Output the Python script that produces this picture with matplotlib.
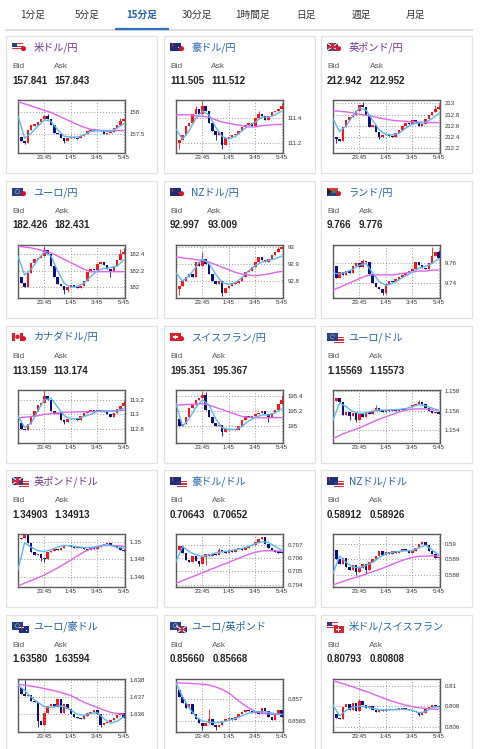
import matplotlib
matplotlib.use('Agg')
import matplotlib.pyplot as plt
from matplotlib.patches import Rectangle, Circle, Polygon
import numpy as np

# ---------------- data ----------------
TAB_LABELS = ['1分足', '5分足', '15分足', '30分足', '1時間足', '日足', '週足', '月足']
TAB_SELECTED = 2

NAMES = ['米ドル/円', '豪ドル/円', '英ポンド/円', 'ユーロ/円', 'NZドル/円', 'ランド/円',
         'カナダドル/円', 'スイスフラン/円', 'ユーロ/ドル', '英ポンド/ドル', '豪ドル/ドル',
         'NZドル/ドル', 'ユーロ/豪ドル', 'ユーロ/英ポンド', '米ドル/スイスフラン']
FLAGS = [('US', 'JP'), ('AU', 'JP'), ('GB', 'JP'), ('EU', 'JP'), ('NZ', 'JP'), ('ZA', 'JP'),
         ('CA', 'JP'), ('CH', 'JP'), ('EU', 'US'), ('GB', 'US'), ('AU', 'US'), ('NZ', 'US'),
         ('EU', 'AU'), ('EU', 'GB'), ('US', 'CH')]
VISITED = [0, 2, 9]
BIDS = ['157.841', '111.505', '212.942', '182.426', '92.997', '9.766', '113.159', '195.351',
        '1.15569', '1.34903', '0.70643', '0.58912', '1.63580', '0.85660', '0.80793']
ASKS = ['157.843', '111.512', '212.952', '182.431', '93.009', '9.776', '113.174', '195.367',
        '1.15573', '1.34913', '0.70652', '0.58926', '1.63594', '0.85668', '0.80808']

TIME_TICKS = [8, 16, 24, 32]
TIME_LABELS = ['23:45', '1:45', '3:45', '5:45']

# 1 米ドル/円
USDJPY_OPEN0 = 157.10
USDJPY_CLOSE = [157.44, 157.34, 157.30, 157.60, 157.70, 157.72, 157.78, 157.86, 157.92, 157.84, 157.70,
                157.52, 157.49, 157.40, 157.33, 157.40, 157.43, 157.41, 157.40, 157.45, 157.50, 157.57,
                157.60, 157.57, 157.60, 157.56, 157.51, 157.53, 157.55, 157.64, 157.72, 157.80, 157.841]
USDJPY_HI = {8: 157.95, 9: 157.96, 31: 157.87}
USDJPY_LO = {0: 157.06, 2: 157.27, 14: 157.30}
USDJPY_FAST = [157.92, 157.41, 157.52, 157.68, 157.83, 157.79, 157.60, 157.45, 157.43, 157.43, 157.48,
               157.56, 157.58, 157.57, 157.56, 157.64, 157.74]
USDJPY_SLOW = [158.25, 158.20, 158.15, 158.10, 158.05, 158.00, 157.93, 157.86, 157.79, 157.72, 157.66,
               157.61, 157.59, 157.58, 157.58, 157.58, 157.58]
USDJPY_YTICKS = [157.5, 158]
USDJPY_YRANGE = (157.06, 158.29)

# 2 豪ドル/円
AUDJPY_OPEN0 = 111.30
AUDJPY_CLOSE = [111.20, 111.22, 111.26, 111.34, 111.36, 111.44, 111.48, 111.44, 111.50, 111.46, 111.36,
                111.30, 111.26, 111.29, 111.18, 111.24, 111.25, 111.26, 111.27, 111.30, 111.33, 111.35,
                111.36, 111.34, 111.40, 111.44, 111.42, 111.39, 111.42, 111.45, 111.46, 111.48, 111.505]
AUDJPY_HI = {6: 111.50, 8: 111.545, 25: 111.46, 32: 111.53}
AUDJPY_LO = {0: 111.14, 1: 111.15, 12: 111.22, 14: 111.15}
AUDJPY_FAST = [111.31, 111.23, 111.30, 111.40, 111.46, 111.43, 111.33, 111.25, 111.23, 111.25, 111.30,
               111.34, 111.37, 111.41, 111.41, 111.43, 111.46]
AUDJPY_SLOW = [111.43, 111.43, 111.43, 111.42, 111.42, 111.41, 111.39, 111.37, 111.36, 111.35, 111.34,
               111.33, 111.33, 111.34, 111.345, 111.35, 111.35]
AUDJPY_YTICKS = [111.2, 111.4]
AUDJPY_YRANGE = (111.114, 111.553)

# 3 英ポンド/円
GBPJPY_OPEN0 = 212.15
GBPJPY_CLOSE = [212.40, 212.36, 212.33, 212.58, 212.70, 212.75, 212.80, 212.86, 212.97, 212.93, 212.80,
                212.58, 212.62, 212.50, 212.40, 212.44, 212.46, 212.43, 212.41, 212.47, 212.53, 212.60,
                212.65, 212.63, 212.70, 212.67, 212.60, 212.63, 212.72, 212.80, 212.84, 212.90, 212.942]
GBPJPY_HI = {9: 213.02, 31: 212.98, 32: 212.99}
GBPJPY_LO = {0: 212.13, 1: 212.30, 14: 212.37}
GBPJPY_FAST = [212.72, 212.50, 212.60, 212.78, 212.92, 212.88, 212.70, 212.53, 212.45, 212.44, 212.47,
               212.56, 212.63, 212.65, 212.66, 212.73, 212.82]
GBPJPY_SLOW = [212.87, 212.86, 212.85, 212.83, 212.81, 212.79, 212.77, 212.74, 212.72, 212.70, 212.69,
               212.68, 212.67, 212.67, 212.66, 212.66, 212.66]
GBPJPY_YTICKS = [212.2, 212.4, 212.6, 212.8, 213]
GBPJPY_YRANGE = (212.12, 213.06)

# 4 ユーロ/円
EURJPY_OPEN0 = 181.98
EURJPY_CLOSE = [182.12, 182.05, 182.00, 182.18, 182.30, 182.34, 182.36, 182.38, 182.45, 182.40, 182.26,
                182.12, 182.04, 182.01, 181.97, 182.00, 182.03, 182.00, 181.99, 182.02, 182.08, 182.19,
                182.22, 182.21, 182.28, 182.31, 182.27, 182.22, 182.20, 182.26, 182.33, 182.40, 182.426]
EURJPY_HI = {8: 182.50, 31: 182.47, 32: 182.48}
EURJPY_LO = {0: 181.94, 14: 181.92, 15: 181.94, 28: 182.12}
EURJPY_FAST = [182.38, 182.15, 182.22, 182.34, 182.43, 182.38, 182.20, 182.05, 182.00, 182.01, 182.05,
               182.13, 182.20, 182.23, 182.24, 182.26, 182.33]
EURJPY_SLOW = [182.50, 182.49, 182.48, 182.46, 182.44, 182.42, 182.38, 182.34, 182.30, 182.26, 182.22,
               182.19, 182.19, 182.19, 182.19, 182.19, 182.19]
EURJPY_YTICKS = [182, 182.2, 182.4]
EURJPY_YRANGE = (181.87, 182.515)

# 5 NZドル/円
NZDJPY_OPEN0 = 92.85
NZDJPY_CLOSE = [92.75, 92.77, 92.80, 92.82, 92.84, 92.82, 92.91, 92.89, 92.93, 92.90, 92.84,
                92.80, 92.78, 92.80, 92.73, 92.76, 92.77, 92.78, 92.79, 92.80, 92.82, 92.85,
                92.86, 92.88, 92.91, 92.94, 92.92, 92.91, 92.93, 92.95, 92.97, 92.985, 92.997]
NZDJPY_HI = {8: 92.97, 31: 93.0, 32: 93.005}
NZDJPY_LO = {1: 92.72, 14: 92.71}
NZDJPY_FAST = [92.845, 92.80, 92.83, 92.88, 92.93, 92.90, 92.84, 92.79, 92.78, 92.79, 92.82,
               92.86, 92.89, 92.91, 92.92, 92.93, 92.945]
NZDJPY_SLOW = [92.94, 92.935, 92.93, 92.925, 92.92, 92.91, 92.895, 92.88, 92.865, 92.85, 92.84,
               92.835, 92.83, 92.835, 92.84, 92.85, 92.855]
NZDJPY_YTICKS = [92.8, 92.9, 93]
NZDJPY_YRANGE = (92.70, 93.01)

# 6 ランド/円
ZARJPY_OPEN0 = 9.743
ZARJPY_CLOSE = [9.757, 9.745, 9.751, 9.748, 9.752, 9.750, 9.757, 9.760, 9.756, 9.763, 9.761,
                9.749, 9.739, 9.735, 9.733, 9.729, 9.738, 9.742, 9.741, 9.744, 9.746, 9.748,
                9.750, 9.752, 9.754, 9.761, 9.758, 9.755, 9.754, 9.760, 9.768, 9.772, 9.766]
ZARJPY_HI = {9: 9.765, 30: 9.7775, 32: 9.774}
ZARJPY_LO = {0: 9.741, 15: 9.727, 16: 9.728}
ZARJPY_FAST = [9.750, 9.749, 9.751, 9.754, 9.758, 9.760, 9.750, 9.741, 9.737, 9.739, 9.743,
               9.747, 9.751, 9.755, 9.757, 9.760, 9.765]
ZARJPY_SLOW = [9.732, 9.735, 9.738, 9.741, 9.744, 9.747, 9.748, 9.748, 9.748, 9.748, 9.749,
               9.750, 9.751, 9.752, 9.752, 9.753, 9.753]
ZARJPY_YTICKS = [9.74, 9.76]
ZARJPY_YRANGE = (9.7238, 9.7793)

# 7 カナダドル/円
CADJPY_OPEN0 = 112.62
CADJPY_CLOSE = [112.88, 112.80, 112.79, 112.86, 112.97, 113.05, 113.13, 113.16, 113.25, 113.20, 113.04,
                113.00, 113.02, 112.92, 112.89, 112.93, 112.95, 112.94, 112.92, 112.97, 113.02, 113.05,
                113.06, 113.04, 113.06, 113.03, 113.05, 113.00, 112.96, 113.02, 113.08, 113.12, 113.159]
CADJPY_HI = {8: 113.33, 32: 113.20}
CADJPY_LO = {0: 112.61, 14: 112.86}
CADJPY_FAST = [112.98, 112.82, 112.88, 113.05, 113.20, 113.22, 113.10, 112.98, 112.94, 112.94, 112.97,
               113.00, 113.04, 113.05, 113.04, 113.05, 113.08]
CADJPY_SLOW = [112.95, 112.96, 112.97, 112.98, 113.00, 113.01, 113.02, 113.03, 113.03, 113.035, 113.035,
               113.035, 113.04, 113.04, 113.045, 113.05, 113.055]
CADJPY_YTICKS = [112.8, 113, 113.2]
CADJPY_YRANGE = (112.605, 113.335)

# 8 スイスフラン/円
CHFJPY_OPEN0 = 194.82
CHFJPY_CLOSE = [195.10, 195.00, 195.03, 195.12, 195.24, 195.28, 195.35, 195.38, 195.41, 195.22, 195.12,
                195.05, 195.00, 195.02, 194.92, 194.96, 194.95, 194.97, 194.95, 195.00, 195.08, 195.14,
                195.12, 195.14, 195.16, 195.18, 195.20, 195.16, 195.12, 195.17, 195.22, 195.30, 195.351]
CHFJPY_HI = {8: 195.47, 9: 195.46, 32: 195.42}
CHFJPY_LO = {0: 194.80, 14: 194.87, 28: 195.06}
CHFJPY_FAST = [195.30, 195.00, 195.10, 195.25, 195.35, 195.28, 195.10, 194.98, 194.96, 194.96, 195.00,
               195.07, 195.12, 195.15, 195.15, 195.18, 195.23]
CHFJPY_SLOW = [195.28, 195.285, 195.29, 195.295, 195.30, 195.28, 195.25, 195.22, 195.19, 195.16, 195.13,
               195.12, 195.115, 195.115, 195.115, 195.115, 195.115]
CHFJPY_YTICKS = [195, 195.2, 195.4]
CHFJPY_YRANGE = (194.78, 195.48)

# 9 ユーロ/ドル
EURUSD_OPEN0 = 1.15740
EURUSD_CLOSE = [1.15700, 1.15735, 1.15690, 1.15550, 1.15590, 1.15540, 1.15570, 1.15500, 1.15560, 1.15530,
                1.15580, 1.15560, 1.15600, 1.15630, 1.15600, 1.15590, 1.15610, 1.15595, 1.15610, 1.15600,
                1.15615, 1.15605, 1.15625, 1.15640, 1.15655, 1.15670, 1.15690, 1.15665, 1.15625, 1.15600,
                1.15575, 1.15585, 1.15569]
EURUSD_HI = {0: 1.15760, 13: 1.15660, 26: 1.15710}
EURUSD_LO = {5: 1.15500, 7: 1.15480}
EURUSD_FAST = [1.15500, 1.15680, 1.15640, 1.15590, 1.15570, 1.15575, 1.15595, 1.15605, 1.15605, 1.15608,
               1.15612, 1.15620, 1.15640, 1.15660, 1.15650, 1.15625, 1.15600]
EURUSD_SLOW = [1.15310, 1.15340, 1.15370, 1.15395, 1.15420, 1.15450, 1.15480, 1.15510, 1.15535, 1.15560,
               1.15585, 1.15605, 1.15615, 1.15618, 1.15615, 1.15608, 1.15600]
EURUSD_YTICKS = [1.154, 1.156, 1.158]
EURUSD_YRANGE = (1.15262, 1.15814)

# 10 英ポンド/ドル
GBPUSD_OPEN0 = 1.34950
GBPUSD_CLOSE = [1.35030, 1.35050, 1.35080, 1.34990, 1.34880, 1.34850, 1.34860, 1.34820, 1.34800, 1.34880,
                1.34900, 1.34920, 1.34910, 1.34930, 1.34950, 1.34970, 1.34940, 1.34930, 1.34945, 1.34930,
                1.34915, 1.34905, 1.34930, 1.34915, 1.34940, 1.34960, 1.34975, 1.34990, 1.34970, 1.34950,
                1.34930, 1.34910, 1.34903]
GBPUSD_HI = {2: 1.35100, 3: 1.35090}
GBPUSD_LO = {7: 1.34780, 8: 1.34770}
GBPUSD_FAST = [1.34680, 1.34990, 1.34940, 1.34900, 1.34890, 1.34910, 1.34940, 1.34960, 1.34955, 1.34945,
               1.34935, 1.34935, 1.34950, 1.34965, 1.34960, 1.34940, 1.34930]
GBPUSD_SLOW = [1.34490, 1.34525, 1.34555, 1.34585, 1.34620, 1.34660, 1.34700, 1.34745, 1.34790, 1.34840,
               1.34885, 1.34920, 1.34945, 1.34958, 1.34960, 1.34958, 1.34950]
GBPUSD_YTICKS = [1.346, 1.348, 1.35]
GBPUSD_YRANGE = (1.3448, 1.35092)

# 11 豪ドル/ドル
AUDUSD_OPEN0 = 0.70700
AUDUSD_CLOSE = [0.70660, 0.70690, 0.70640, 0.70590, 0.70570, 0.70620, 0.70580, 0.70560, 0.70610, 0.70630,
                0.70615, 0.70635, 0.70625, 0.70660, 0.70650, 0.70640, 0.70660, 0.70650, 0.70670, 0.70680,
                0.70665, 0.70675, 0.70690, 0.70700, 0.70720, 0.70745, 0.70760, 0.70710, 0.70680, 0.70660,
                0.70650, 0.70645, 0.70643]
AUDUSD_HI = {13: 0.70680, 26: 0.70765}
AUDUSD_LO = {7: 0.70540, 9: 0.70550}
AUDUSD_FAST = [0.70575, 0.70690, 0.70650, 0.70625, 0.70615, 0.70625, 0.70640, 0.70650, 0.70655, 0.70665,
               0.70675, 0.70690, 0.70710, 0.70725, 0.70720, 0.70690, 0.70660]
AUDUSD_SLOW = [0.70410, 0.70430, 0.70450, 0.70470, 0.70490, 0.70510, 0.70530, 0.70550, 0.70570, 0.70590,
               0.70610, 0.70630, 0.70645, 0.70655, 0.70658, 0.70656, 0.70652]
AUDUSD_YTICKS = [0.704, 0.705, 0.706, 0.707]
AUDUSD_YRANGE = (0.70382, 0.70784)

# 12 NZドル/ドル
NZDUSD_OPEN0 = 0.59000
NZDUSD_CLOSE = [0.58960, 0.58900, 0.58870, 0.58905, 0.58850, 0.58830, 0.58860, 0.58820, 0.58845, 0.58870,
                0.58830, 0.58880, 0.58900, 0.58920, 0.58950, 0.58930, 0.58945, 0.58935, 0.58950, 0.58940,
                0.58955, 0.58965, 0.58950, 0.58940, 0.58955, 0.58975, 0.58995, 0.59010, 0.58990, 0.58955,
                0.58935, 0.58910, 0.58912]
NZDUSD_HI = {0: 0.59010, 27: 0.59020}
NZDUSD_LO = {7: 0.58800, 10: 0.58805}
NZDUSD_FAST = [0.58810, 0.58920, 0.58880, 0.58850, 0.58845, 0.58860, 0.58880, 0.58910, 0.58935, 0.58945,
               0.58950, 0.58955, 0.58955, 0.58975, 0.58990, 0.58960, 0.58930]
NZDUSD_SLOW = [0.58735, 0.58750, 0.58765, 0.58778, 0.58790, 0.58805, 0.58820, 0.58835, 0.58850, 0.58868,
               0.58885, 0.58900, 0.58912, 0.58918, 0.58920, 0.58922, 0.58922]
NZDUSD_YTICKS = [0.588, 0.589, 0.59]
NZDUSD_YRANGE = (0.58722, 0.59062)

# 13 ユーロ/豪ドル
EURAUD_OPEN0 = 1.63640
EURAUD_CLOSE = [1.63755, 1.63720, 1.63705, 1.63715, 1.63680, 1.63670, 1.63560, 1.63540, 1.63610, 1.63650,
                1.63660, 1.63640, 1.63690, 1.63610, 1.63660, 1.63630, 1.63600, 1.63585, 1.63578, 1.63575,
                1.63590, 1.63605, 1.63615, 1.63625, 1.63600, 1.63540, 1.63548, 1.63555, 1.63565, 1.63580,
                1.63595, 1.63610, 1.63580]
EURAUD_HI = {0: 1.63790, 2: 1.63798}
EURAUD_LO = {6: 1.63525, 25: 1.63525}
EURAUD_FAST = [1.63770, 1.63740, 1.63700, 1.63670, 1.63645, 1.63640, 1.63650, 1.63645, 1.63625, 1.63600,
               1.63595, 1.63605, 1.63610, 1.63575, 1.63548, 1.63560, 1.63585]
EURAUD_SLOW = [1.63775, 1.63770, 1.63765, 1.63758, 1.63750, 1.63742, 1.63733, 1.63722, 1.63710, 1.63690,
               1.63670, 1.63655, 1.63640, 1.63625, 1.63612, 1.63604, 1.63600]
EURAUD_YTICKS = [1.636, 1.637, 1.638]
EURAUD_YRANGE = (1.63497, 1.63806)

# 14 ユーロ/英ポンド
EURGBP_OPEN0 = 0.85740
EURGBP_CLOSE = [0.85720, 0.85704, 0.85692, 0.85680, 0.85688, 0.85665, 0.85655, 0.85646, 0.85638, 0.85645,
                0.85655, 0.85640, 0.85636, 0.85642, 0.85650, 0.85654, 0.85656, 0.85652, 0.85660, 0.85665,
                0.85670, 0.85675, 0.85672, 0.85668, 0.85673, 0.85665, 0.85680, 0.85674, 0.85660, 0.85652,
                0.85665, 0.85676, 0.85660]
EURGBP_HI = {0: 0.85745, 10: 0.85677}
EURGBP_LO = {8: 0.85630, 12: 0.85630}
EURGBP_FAST = [0.85737, 0.85705, 0.85680, 0.85660, 0.85650, 0.85648, 0.85646, 0.85648, 0.85652, 0.85656,
               0.85662, 0.85668, 0.85671, 0.85671, 0.85670, 0.85667, 0.85665]
EURGBP_SLOW = [0.85737, 0.85737, 0.85736, 0.85735, 0.85734, 0.85732, 0.85728, 0.85722, 0.85714, 0.85702,
               0.85690, 0.85680, 0.85672, 0.85668, 0.85666, 0.85665, 0.85665]
EURGBP_YTICKS = [0.8565, 0.857]
EURGBP_YRANGE = (0.85625, 0.85746)

# 15 米ドル/スイスフラン
USDCHF_OPEN0 = 0.80560
USDCHF_CLOSE = [0.80720, 0.80680, 0.80675, 0.80790, 0.80820, 0.80760, 0.80830, 0.80750, 0.80850, 0.80810,
                0.80780, 0.80800, 0.80760, 0.80745, 0.80765, 0.80755, 0.80770, 0.80760, 0.80772, 0.80765,
                0.80778, 0.80785, 0.80775, 0.80765, 0.80755, 0.80740, 0.80715, 0.80735, 0.80770, 0.80795,
                0.80810, 0.80800, 0.80793]
USDCHF_HI = {8: 0.80870}
USDCHF_LO = {0: 0.80550, 26: 0.80700}
USDCHF_FAST = [0.80810, 0.80705, 0.80760, 0.80790, 0.80800, 0.80795, 0.80780, 0.80765, 0.80762, 0.80765,
               0.80770, 0.80768, 0.80760, 0.80735, 0.80745, 0.80785, 0.80795]
USDCHF_SLOW = [0.81050, 0.81030, 0.81010, 0.80990, 0.80965, 0.80945, 0.80920, 0.80895, 0.80870, 0.80848,
               0.80828, 0.80810, 0.80795, 0.80785, 0.80778, 0.80772, 0.80768]
USDCHF_YTICKS = [0.806, 0.808, 0.81]
USDCHF_YRANGE = (0.80547, 0.81066)

SERIES = [
    (USDJPY_OPEN0, USDJPY_CLOSE, USDJPY_HI, USDJPY_LO, USDJPY_FAST, USDJPY_SLOW, USDJPY_YTICKS, USDJPY_YRANGE),
    (AUDJPY_OPEN0, AUDJPY_CLOSE, AUDJPY_HI, AUDJPY_LO, AUDJPY_FAST, AUDJPY_SLOW, AUDJPY_YTICKS, AUDJPY_YRANGE),
    (GBPJPY_OPEN0, GBPJPY_CLOSE, GBPJPY_HI, GBPJPY_LO, GBPJPY_FAST, GBPJPY_SLOW, GBPJPY_YTICKS, GBPJPY_YRANGE),
    (EURJPY_OPEN0, EURJPY_CLOSE, EURJPY_HI, EURJPY_LO, EURJPY_FAST, EURJPY_SLOW, EURJPY_YTICKS, EURJPY_YRANGE),
    (NZDJPY_OPEN0, NZDJPY_CLOSE, NZDJPY_HI, NZDJPY_LO, NZDJPY_FAST, NZDJPY_SLOW, NZDJPY_YTICKS, NZDJPY_YRANGE),
    (ZARJPY_OPEN0, ZARJPY_CLOSE, ZARJPY_HI, ZARJPY_LO, ZARJPY_FAST, ZARJPY_SLOW, ZARJPY_YTICKS, ZARJPY_YRANGE),
    (CADJPY_OPEN0, CADJPY_CLOSE, CADJPY_HI, CADJPY_LO, CADJPY_FAST, CADJPY_SLOW, CADJPY_YTICKS, CADJPY_YRANGE),
    (CHFJPY_OPEN0, CHFJPY_CLOSE, CHFJPY_HI, CHFJPY_LO, CHFJPY_FAST, CHFJPY_SLOW, CHFJPY_YTICKS, CHFJPY_YRANGE),
    (EURUSD_OPEN0, EURUSD_CLOSE, EURUSD_HI, EURUSD_LO, EURUSD_FAST, EURUSD_SLOW, EURUSD_YTICKS, EURUSD_YRANGE),
    (GBPUSD_OPEN0, GBPUSD_CLOSE, GBPUSD_HI, GBPUSD_LO, GBPUSD_FAST, GBPUSD_SLOW, GBPUSD_YTICKS, GBPUSD_YRANGE),
    (AUDUSD_OPEN0, AUDUSD_CLOSE, AUDUSD_HI, AUDUSD_LO, AUDUSD_FAST, AUDUSD_SLOW, AUDUSD_YTICKS, AUDUSD_YRANGE),
    (NZDUSD_OPEN0, NZDUSD_CLOSE, NZDUSD_HI, NZDUSD_LO, NZDUSD_FAST, NZDUSD_SLOW, NZDUSD_YTICKS, NZDUSD_YRANGE),
    (EURAUD_OPEN0, EURAUD_CLOSE, EURAUD_HI, EURAUD_LO, EURAUD_FAST, EURAUD_SLOW, EURAUD_YTICKS, EURAUD_YRANGE),
    (EURGBP_OPEN0, EURGBP_CLOSE, EURGBP_HI, EURGBP_LO, EURGBP_FAST, EURGBP_SLOW, EURGBP_YTICKS, EURGBP_YRANGE),
    (USDCHF_OPEN0, USDCHF_CLOSE, USDCHF_HI, USDCHF_LO, USDCHF_FAST, USDCHF_SLOW, USDCHF_YTICKS, USDCHF_YRANGE),
]

# ---------------- style / layout ----------------
W, H = 480, 749
JP_FONT = ['Noto Sans CJK JP', 'DejaVu Sans']
NUM_FONT = ['Liberation Sans', 'DejaVu Sans']
UP = '#ff1414'
DOWN = '#0c0c8a'
FAST_C = '#5ab8f0'
SLOW_C = '#e064f0'
BLUE_LINK = '#1f62b0'
PURPLE_LINK = '#6d3199'

COL_X = [6, 164, 321]
ROW_Y = [36, 181, 326, 470, 615]
CARD_W, CARD_H = 151, 137

fig = plt.figure(figsize=(W / 100, H / 100), dpi=100)
fig.patch.set_facecolor('white')
bg = fig.add_axes([0, 0, 1, 1])
bg.set_xlim(0, W)
bg.set_ylim(H, 0)
bg.axis('off')
renderer = fig.canvas.get_renderer()

# tabs
TAB_X = [33, 87, 142, 197, 252, 306, 361, 415]
for k, (lab, tx) in enumerate(zip(TAB_LABELS, TAB_X)):
    sel = k == TAB_SELECTED
    bg.text(tx, 15, lab, ha='center', va='center', fontsize=7.0, family=JP_FONT,
            color='#1f62b0' if sel else '#333333', fontweight='bold' if sel else 'normal')
bg.plot([5, 473], [29.6, 29.6], color='#dddddd', lw=1.4, solid_capstyle='butt')
bg.plot([115, 169], [29.3, 29.3], color='#2f6fc0', lw=1.6, solid_capstyle='butt')


def draw_flag(code, x, y, w, h):
    z = 5
    if code == 'JP':
        bg.add_patch(Circle((x + w * 0.5, y + h * 0.55), 1.8, color='#d8102a', zorder=z + 1))
        return
    if code == 'US':
        n = 6
        for s in range(n):
            bg.add_patch(Rectangle((x, y + s * h / n), w, h / n,
                                   color='#d3343f' if s % 2 == 0 else '#f4f4f4', lw=0, zorder=z))
        bg.add_patch(Rectangle((x, y), w * 0.45, h * 0.55, color='#2b3b8f', lw=0, zorder=z))
    elif code in ('AU', 'NZ'):
        bg.add_patch(Rectangle((x, y), w, h, color='#1e2d78', lw=0, zorder=z))
        bg.add_patch(Rectangle((x, y + h * 0.2), w * 0.5, h * 0.12, color='#e6e6f0', lw=0, zorder=z))
        bg.add_patch(Rectangle((x + w * 0.2, y), w * 0.1, h * 0.5, color='#d23040', lw=0, zorder=z))
        bg.add_patch(Rectangle((x + w * 0.7, y + h * 0.55), w * 0.12, h * 0.18,
                               color='#ffffff' if code == 'AU' else '#d23040', lw=0, zorder=z))
    elif code == 'GB':
        bg.add_patch(Rectangle((x, y), w, h, color='#23307a', lw=0, zorder=z))
        bg.plot([x, x + w], [y, y + h], color='#eeeeee', lw=0.9, zorder=z)
        bg.plot([x, x + w], [y + h, y], color='#eeeeee', lw=0.9, zorder=z)
        bg.add_patch(Rectangle((x, y + h * 0.38), w, h * 0.24, color='#d0283a', lw=0, zorder=z))
        bg.add_patch(Rectangle((x + w * 0.4, y), w * 0.2, h, color='#d0283a', lw=0, zorder=z))
    elif code == 'EU':
        bg.add_patch(Rectangle((x, y), w, h, color='#22409a', lw=0, zorder=z))
        bg.add_patch(Circle((x + w * 0.5, y + h * 0.5), h * 0.28, fill=False, ec='#d8c040', lw=0.4,
                            zorder=z))
    elif code == 'ZA':
        bg.add_patch(Rectangle((x, y), w, h / 2, color='#d8403a', lw=0, zorder=z))
        bg.add_patch(Rectangle((x, y + h / 2), w, h / 2, color='#1f3a94', lw=0, zorder=z))
        bg.add_patch(Rectangle((x, y + h * 0.36), w, h * 0.28, color='#1e8a50', lw=0, zorder=z))
        bg.add_patch(Polygon([[x, y], [x + w * 0.45, y + h / 2], [x, y + h]], closed=True,
                             color='#222222', lw=0, zorder=z))
    elif code == 'CA':
        bg.add_patch(Rectangle((x, y), w, h, color='#ffffff', lw=0, zorder=z))
        bg.add_patch(Rectangle((x, y), w * 0.25, h, color='#d8202a', lw=0, zorder=z))
        bg.add_patch(Rectangle((x + w * 0.75, y), w * 0.25, h, color='#d8202a', lw=0, zorder=z))
        bg.add_patch(Circle((x + w * 0.5, y + h * 0.5), h * 0.2, color='#d8202a', zorder=z))
    elif code == 'CH':
        bg.add_patch(Rectangle((x, y), w, h, color='#e0202a', lw=0, zorder=z))
        bg.add_patch(Rectangle((x + w * 0.42, y + h * 0.2), w * 0.16, h * 0.6, color='white', lw=0, zorder=z))
        bg.add_patch(Rectangle((x + w * 0.28, y + h * 0.4), w * 0.44, h * 0.2, color='white', lw=0, zorder=z))


def draw_candles(ax, open0, closes, hi, lo, yr):
    opens = [open0] + list(closes[:-1])
    minh = (yr[1] - yr[0]) * 0.02
    for i, (o, c) in enumerate(zip(opens, closes)):
        col = UP if c >= o else DOWN
        top, bot = max(o, c), min(o, c)
        if top - bot < minh:
            mid = (top + bot) / 2
            top, bot = mid + minh / 2, mid - minh / 2
        hv = max(hi.get(i, top), top)
        lv = min(lo.get(i, bot), bot)
        ax.vlines(i, lv, hv, color=col, lw=0.6, zorder=2)
        ax.add_patch(Rectangle((i - 0.38, bot), 0.76, top - bot, color=col, lw=0, zorder=2))


for idx in range(15):
    r, cidx = divmod(idx, 3)
    cx, cy = COL_X[cidx], ROW_Y[r]
    bg.add_patch(Rectangle((cx, cy), CARD_W, CARD_H, fill=False, ec='#e2e2e2', lw=0.9, zorder=1))

    a, b = FLAGS[idx]
    fx, fy = cx + 6, cy + 7
    draw_flag(a, fx, fy, 11, 7.5)
    if b == 'JP':
        draw_flag(b, fx + 6.5, fy + 1.5, 10, 7.5)
    else:
        draw_flag(b, fx + 6.5, fy + 4, 10, 7)

    bg.text(cx + 27.5, cy + 11.5, NAMES[idx], ha='left', va='center', fontsize=7.3, family=JP_FONT,
            color=PURPLE_LINK if idx in VISITED else BLUE_LINK)

    bg.text(cx + 6, cy + 30.5, 'Bid', ha='left', va='center', fontsize=6.0, family=NUM_FONT, color='#5a5a5a')
    tv = bg.text(cx + 6, cy + 44.5, BIDS[idx], ha='left', va='center', fontsize=7.0, family=NUM_FONT,
                 fontweight='bold', color='#222222')
    wpx = tv.get_window_extent(renderer=renderer).width
    ax_x = cx + 6 + wpx + 7
    bg.text(ax_x, cy + 30.5, 'Ask', ha='left', va='center', fontsize=6.0, family=NUM_FONT, color='#5a5a5a')
    bg.text(ax_x, cy + 44.5, ASKS[idx], ha='left', va='center', fontsize=7.0, family=NUM_FONT,
            fontweight='bold', color='#222222')

    open0, closes, hi, lo, fast, slow, yticks, yr = SERIES[idx]
    left, top, pw, ph = cx + 12, cy + 64, 107, 53
    ax = fig.add_axes([left / W, 1 - (top + ph) / H, pw / W, ph / H])
    ax.set_facecolor('white')
    ax.set_xlim(0, 32.4)
    ax.set_ylim(*yr)
    ax.set_xticks(TIME_TICKS)
    ax.set_xticklabels(TIME_LABELS)
    ax.yaxis.tick_right()
    ax.set_yticks(yticks)
    ax.set_yticklabels(['%g' % v for v in yticks])
    ax.tick_params(axis='both', length=0, labelsize=4.4, labelcolor='#333333')
    ax.tick_params(axis='x', pad=1.2)
    ax.tick_params(axis='y', pad=3.6)
    for lab in ax.get_xticklabels() + ax.get_yticklabels():
        lab.set_family(NUM_FONT)
    ax.grid(True, linestyle=(0, (1, 2)), color='#999999', lw=0.7, zorder=0)
    ax.set_axisbelow(True)
    for sp in ax.spines.values():
        sp.set_color('#5a5a5a')
        sp.set_linewidth(1.0)

    draw_candles(ax, open0, closes, hi, lo, yr)
    xm = np.arange(0, 2 * len(fast), 2)
    ax.plot(xm, slow, color=SLOW_C, lw=1.0, zorder=3)
    ax.plot(xm, fast, color=FAST_C, lw=1.0, zorder=3)

fig.savefig('out.png', dpi=100, facecolor='white')
